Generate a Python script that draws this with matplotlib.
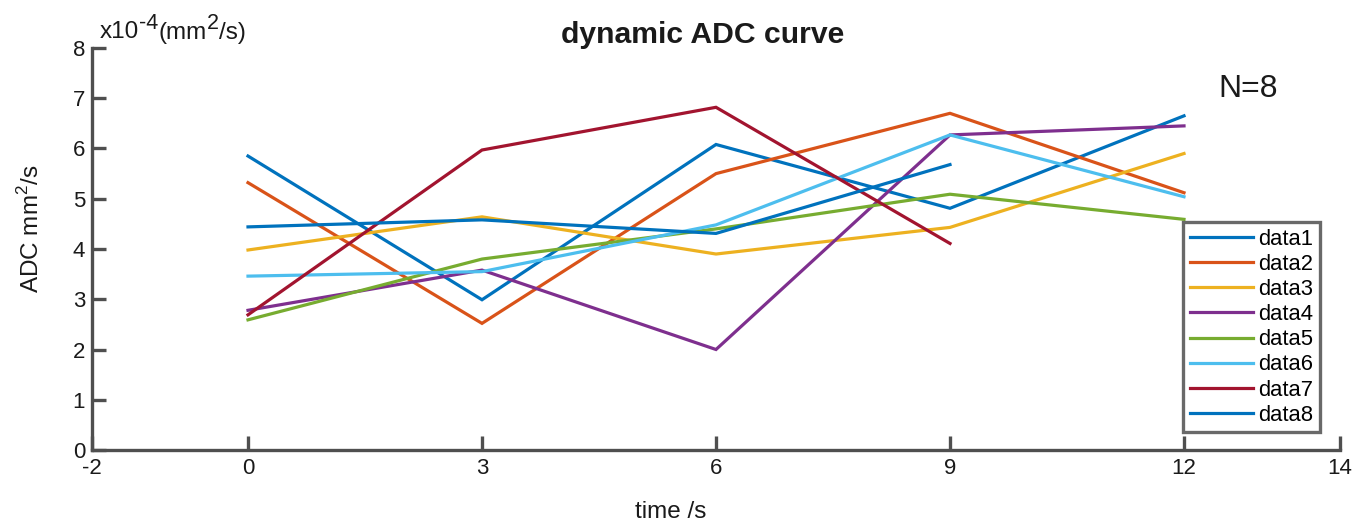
import matplotlib
matplotlib.use("Agg")
import matplotlib.pyplot as plt
from matplotlib.transforms import IdentityTransform

plt.rcParams['font.family'] = ['Liberation Sans', 'DejaVu Sans']

time_s = [0, 3, 6, 9, 12]
data1 = [5.85, 2.99, 6.08, 4.81, 6.65]
data2 = [5.32, 2.52, 5.50, 6.70, 5.12]
data3 = [3.98, 4.64, 3.90, 4.43, 5.90]
data4 = [2.78, 3.58, 2.00, 6.27, 6.45]
data5 = [2.59, 3.80, 4.40, 5.09, 4.59]
data6 = [3.46, 3.55, 4.48, 6.27, 5.04]
data7 = [2.69, 5.97, 6.82, 4.11]
data8 = [4.44, 4.58, 4.31, 5.68]

series = [data1, data2, data3, data4, data5, data6, data7, data8]
labels = ["data1", "data2", "data3", "data4", "data5", "data6", "data7", "data8"]
colors = ["#0072BD", "#D95319", "#EDB120", "#7E2F8E", "#77AC30", "#4DBEEE", "#A2142F", "#0072BD"]

xticks = [-2, 0, 3, 6, 9, 12, 14]
yticks = [0, 1, 2, 3, 4, 5, 6, 7, 8]

W, H = 1368, 531
fig = plt.figure(figsize=(W / 100, H / 100), dpi=100)
ax = fig.add_axes([92 / W, (H - 450) / H, 1248 / W, 402 / H])

for vals, lab, c in zip(series, labels, colors):
    ax.plot(time_s[:len(vals)], vals, color=c, lw=2.3, label=lab, solid_joinstyle='miter')

ax.set_xlim(-2, 14)
ax.set_ylim(0, 8)
ax.set_xticks(xticks)
ax.set_yticks(yticks)
ax.set_xticklabels([str(t) for t in xticks])
ax.set_yticklabels([str(t) for t in yticks])

txt_c = '#1a1a1a'
spine_c = "#4f4f4f"
for s in ['top', 'right']:
    ax.spines[s].set_visible(False)
for s in ['left', 'bottom']:
    ax.spines[s].set_color(spine_c)
    ax.spines[s].set_linewidth(2.4)
ax.tick_params(direction='in', length=10, width=2.4, color=spine_c,
               labelsize=16, labelcolor=txt_c)
ax.tick_params(axis='x', pad=6)
ax.tick_params(axis='y', pad=5)

fig.text(703 / W, (H - 43) / H, "dynamic ADC curve", ha='center', va='baseline',
         fontsize=21.7, fontweight='bold', color=txt_c)

# x10^-4(mm^2/s) built from pieces in pixel coordinates
renderer = fig.canvas.get_renderer()
pieces = [("x10", 17.5, 0), ("-4", 15.5, 9.5), ("(mm", 17.5, 0), ("2", 15.5, 9.5), ("/s)", 17.5, 0)]
x = 100.0
base = H - 38.5
for s, fs, dy in pieces:
    t = fig.text(x, base + dy, s, fontsize=fs, color=txt_c, ha='left', va='baseline',
                 transform=IdentityTransform())
    x = t.get_window_extent(renderer).x1

ax.text(12.44, 7.18, "N=8", ha='left', va='center', fontsize=23, color=txt_c)

fig.text(31 / W, (H - 229) / H, r"ADC mm$^{\mathregular{2}}$/s", rotation=90,
         ha='center', va='center', fontsize=17.5, color=txt_c)
fig.text(671 / W, (H - 512) / H, "time /s", ha='center', va='center', fontsize=17.5, color=txt_c)

leg = ax.legend(loc='upper left', bbox_to_anchor=((1183 - 92) / 1248, (450 - 222) / 402),
                fontsize=15.8, frameon=True, fancybox=False, borderpad=0.3, labelspacing=0.19,
                handlelength=2.9, handletextpad=0.23, borderaxespad=0)
leg.get_frame().set_edgecolor('#444444')
leg.get_frame().set_linewidth(2.4)

fig.savefig("out.png", dpi=100)
